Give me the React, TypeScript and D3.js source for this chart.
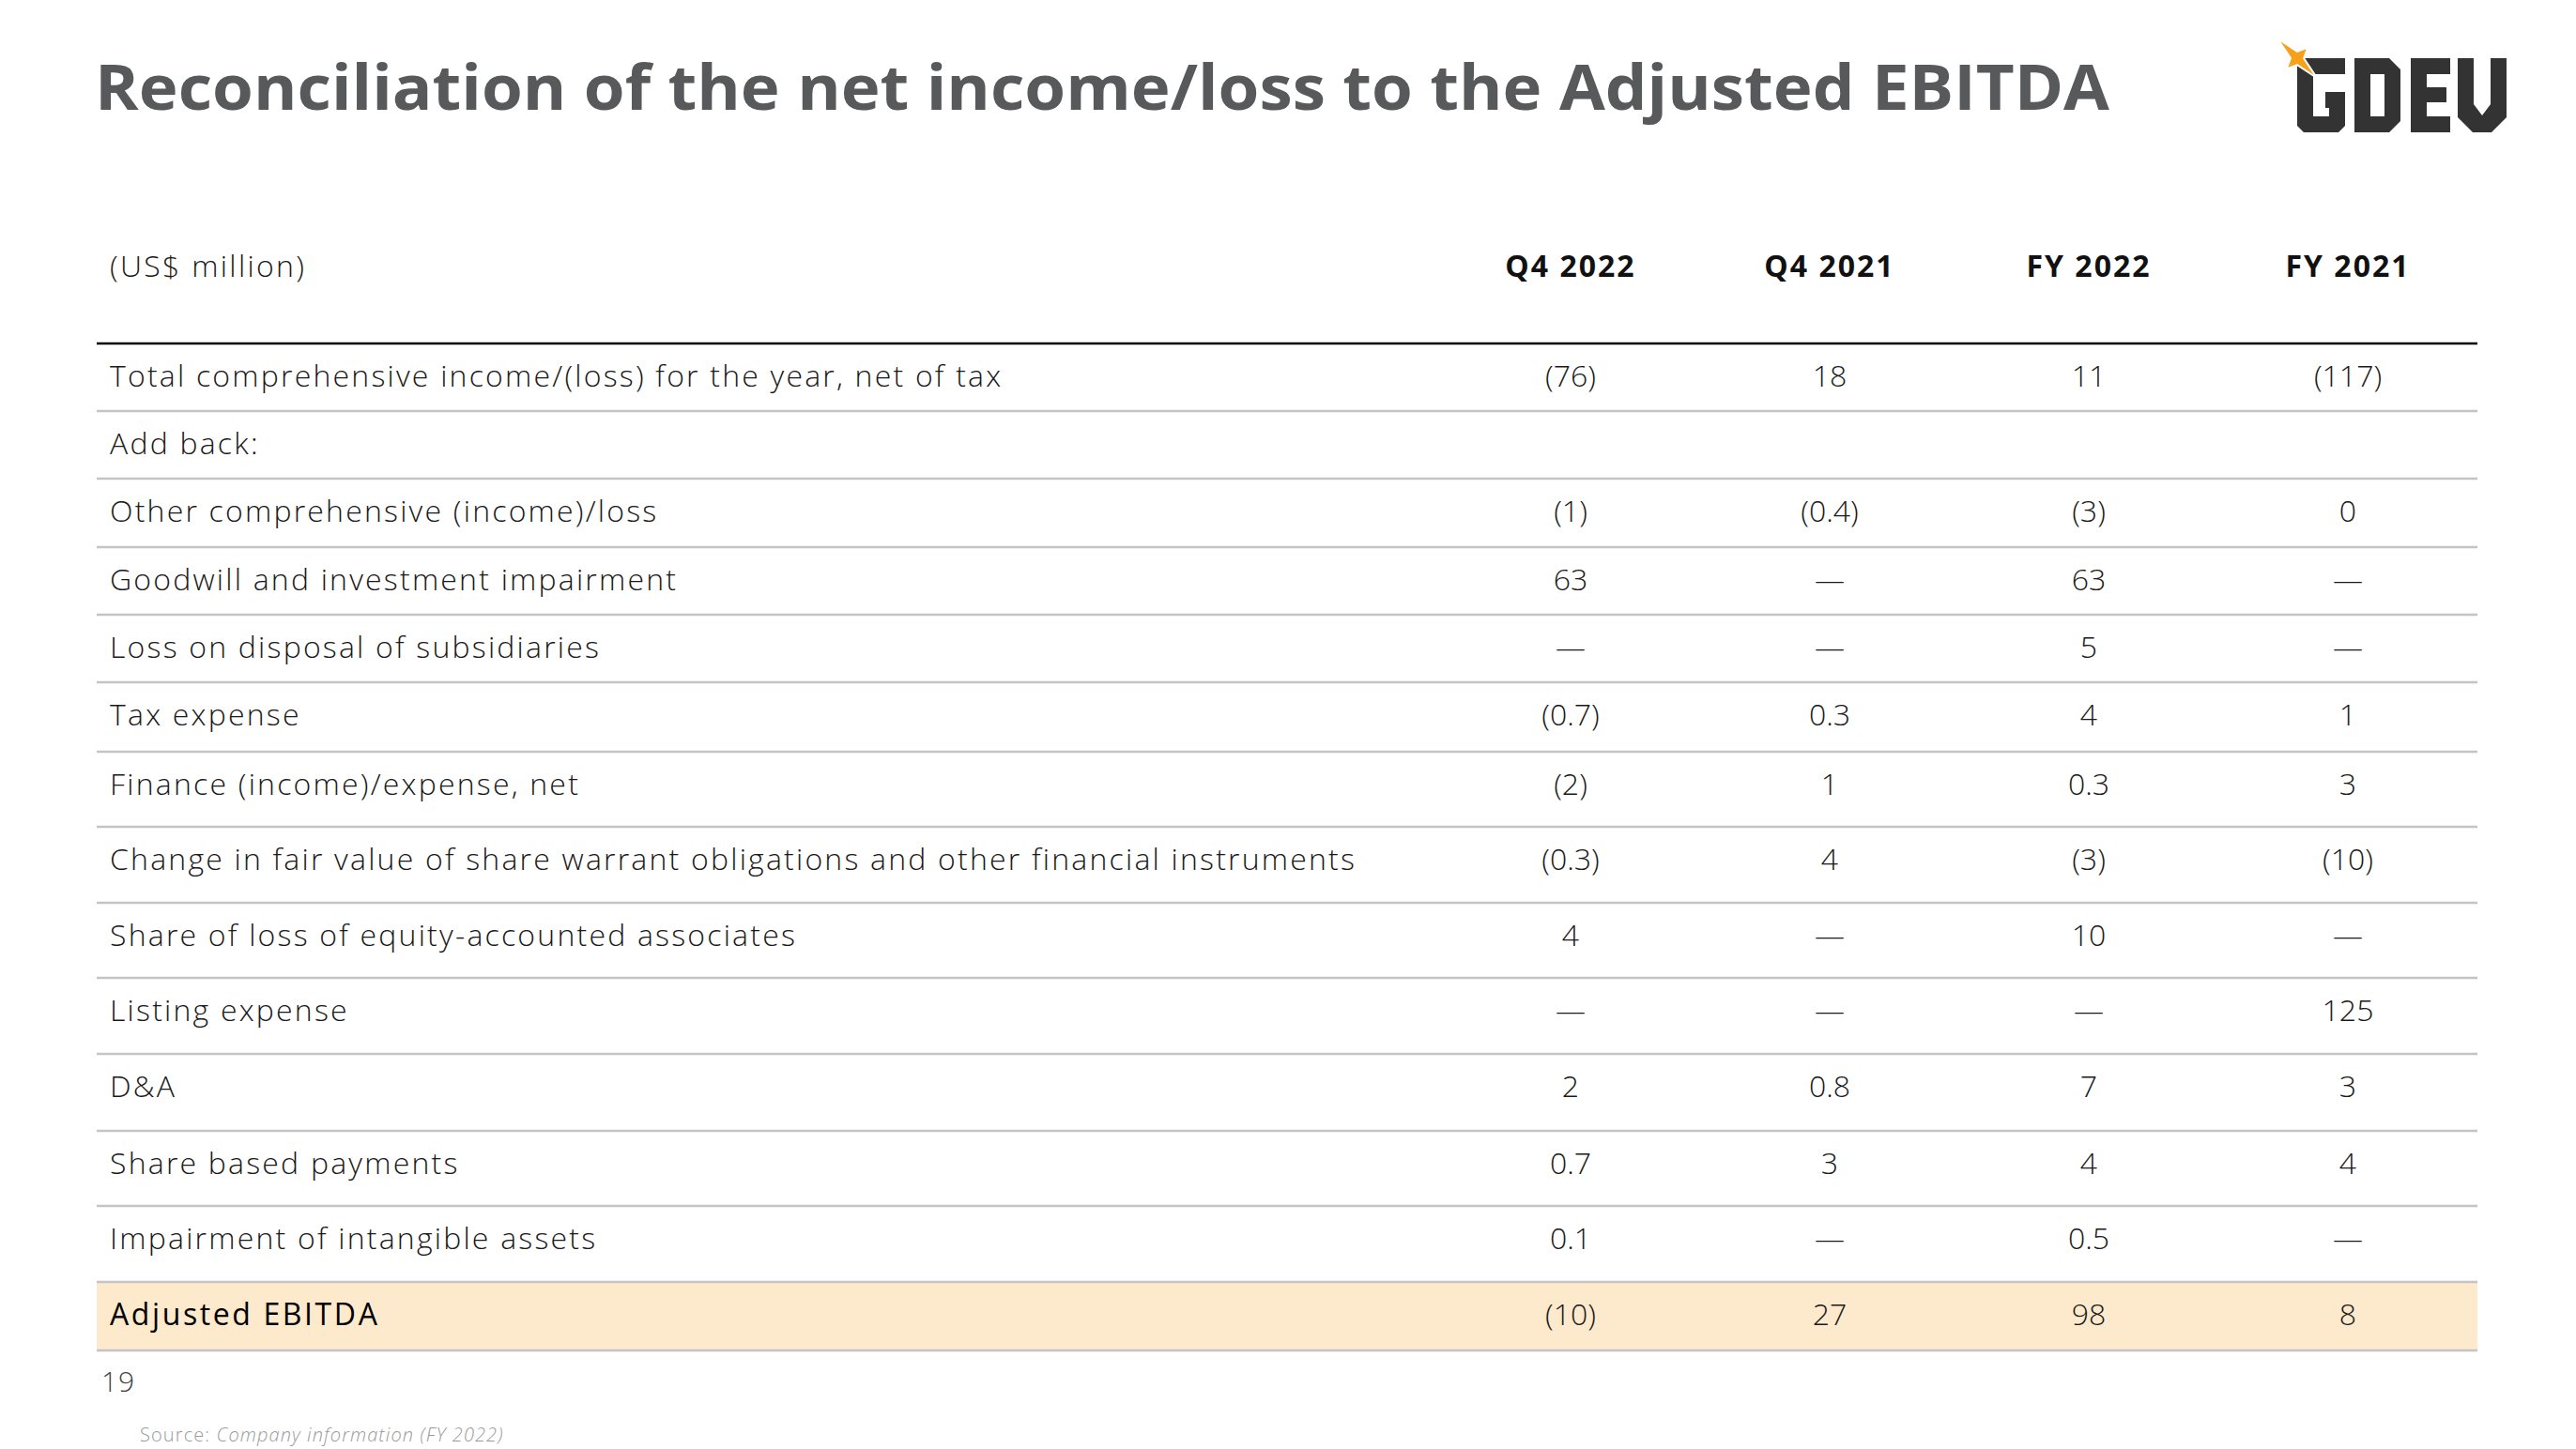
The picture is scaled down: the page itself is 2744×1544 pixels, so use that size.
import React from "react";
import * as d3 from "d3";

const title = "Reconciliation of the net income/loss to the Adjusted EBITDA";
const unitLabel = "(US$ million)";
const columns = ["Q4 2022", "Q4 2021", "FY 2022", "FY 2021"];
const rowLabels = [
  "Total comprehensive income/(loss) for the year, net of tax",
  "Add back:",
  "Other comprehensive (income)/loss",
  "Goodwill and investment impairment",
  "Loss on disposal of subsidiaries",
  "Tax expense",
  "Finance (income)/expense, net",
  "Change in fair value of share warrant obligations and other financial instruments",
  "Share of loss of equity-accounted associates",
  "Listing expense",
  "D&A",
  "Share based payments",
  "Impairment of intangible assets",
  "Adjusted EBITDA",
];
const q4_2022 = ["(76)", "", "(1)", "63", "—", "(0.7)", "(2)", "(0.3)", "4", "—", "2", "0.7", "0.1", "(10)"];
const q4_2021 = ["18", "", "(0.4)", "—", "—", "0.3", "1", "4", "—", "—", "0.8", "3", "—", "27"];
const fy_2022 = ["11", "", "(3)", "63", "5", "4", "0.3", "(3)", "10", "—", "7", "4", "0.5", "98"];
const fy_2021 = ["(117)", "", "0", "—", "—", "1", "3", "(10)", "—", "125", "3", "4", "—", "8"];
const pageNumber = "19";
const sourcePrefix = "Source: ";
const sourceText = "Company information (FY 2022)";

// layout
const W = 2744;
const H = 1544;
const tableLeft = 103;
const tableRight = 2639;
const tableTop = 366;
const rowHeights = [72, 72, 73, 72, 72, 74, 80, 81, 80, 81, 82, 80, 81, 73];
const FONT = "'Open Sans', 'Noto Sans', sans-serif";

function Logo() {
  const y0 = 62;
  const Hh = 79;
  const t = 17;
  const c = 7;
  const gx = 2447, gw = 51;
  const G = [
    [gx + c, y0], [gx + gw, y0], [gx + gw, y0 + t], [gx + t, y0 + t], [gx + t, y0 + Hh - t],
    [gx + gw - t, y0 + Hh - t], [gx + gw - t, y0 + 36 + t], [gx + 30, y0 + 36 + t], [gx + 30, y0 + 36],
    [gx + gw, y0 + 36], [gx + gw, y0 + Hh - c], [gx + gw - c, y0 + Hh], [gx + c, y0 + Hh], [gx, y0 + Hh - c], [gx, y0 + c],
  ];
  const dx = 2508, dw = 49;
  const Douter = [[dx, y0], [dx + dw - 12, y0], [dx + dw, y0 + 12], [dx + dw, y0 + Hh - 12], [dx + dw - 12, y0 + Hh], [dx, y0 + Hh]];
  const Dinner = [[dx + t, y0 + t], [dx + dw - t, y0 + t], [dx + dw - t, y0 + Hh - t], [dx + t, y0 + Hh - t]];
  const ex = 2568, ew = 42;
  const E = [
    [ex, y0], [ex + ew, y0], [ex + ew, y0 + t], [ex + t, y0 + t], [ex + t, y0 + 31], [ex + ew - 4, y0 + 31],
    [ex + ew - 4, y0 + 47], [ex + t, y0 + 47], [ex + t, y0 + Hh - t], [ex + ew, y0 + Hh - t], [ex + ew, y0 + Hh], [ex, y0 + Hh],
  ];
  const vx = 2618, vw = 52;
  const V = [
    [vx, y0], [vx + t, y0], [vx + t, y0 + Hh - 30], [vx + vw / 2, y0 + Hh - 18], [vx + vw - t, y0 + Hh - 30],
    [vx + vw - t, y0], [vx + vw, y0], [vx + vw, y0 + Hh - 16], [vx + vw - 16, y0 + Hh], [vx + 16, y0 + Hh], [vx, y0 + Hh - 16],
  ];
  const poly = (pts: number[][]) => "M" + pts.map((p) => p.join(",")).join("L") + "Z";
  const cx = 2447, cy = 62;
  const L = 30, S = 16, w = 5;
  const u = [Math.SQRT1_2, Math.SQRT1_2];
  const v = [Math.SQRT1_2, -Math.SQRT1_2];
  const pt = (a: number, b: number) => [cx + u[0] * a + v[0] * b, cy + u[1] * a + v[1] * b];
  const star = [pt(-L, 0), pt(-w, w), pt(0, S), pt(w, w), pt(L, 0), pt(w, -w), pt(0, -S), pt(-w, -w)];
  return (
    <g>
      <path d={poly(G)} fill="#333333" />
      <path d={poly(Douter) + poly(Dinner)} fill="#333333" fillRule="evenodd" />
      <path d={poly(E)} fill="#333333" />
      <path d={poly(V)} fill="#333333" />
      <path d={poly(star)} fill="#F5A11C" stroke="#ffffff" strokeWidth={2} />
    </g>
  );
}

export default function App() {
  const tops = [tableTop, ...Array.from(d3.cumsum(rowHeights), (s) => tableTop + s)];
  const x = d3.scalePoint<string>().domain(columns).range([1673, 2501]);
  const series = [q4_2022, q4_2021, fy_2022, fy_2021];
  const fs = 32;
  const lastIdx = rowLabels.length - 1;

  return (
    <svg width={W} height={H} style={{ position: "absolute", left: 0, top: 0, background: "#fff" }} fontFamily={FONT}>
      <rect x={0} y={0} width={W} height={H} fill="#ffffff" />
      <text x={101} y={117} fontSize={66} fontWeight={700} fill="#58595b" textLength={2146} lengthAdjust="spacingAndGlyphs">
        {title}
      </text>
      <Logo />

      {/* header */}
      <text x={117} y={295} fontSize={fs} fontWeight={300} fill="#1a1a1a" letterSpacing={2.3}>{unitLabel}</text>
      {columns.map((c) => (
        <text key={c} x={x(c)} y={295} fontSize={fs} fontWeight={700} fill="#111" textAnchor="middle" letterSpacing={2}>{c}</text>
      ))}

      {/* highlight row */}
      <rect x={tableLeft} y={tops[lastIdx]} width={tableRight - tableLeft} height={rowHeights[lastIdx]} fill="#FDE9CC" />

      {/* row lines */}
      {tops.slice(1).map((yy, i) => (
        <line key={i} x1={tableLeft} x2={tableRight} y1={yy} y2={yy} stroke="#c4c4c4" strokeWidth={2.5} />
      ))}
      <line x1={tableLeft} x2={tableRight} y1={tableTop} y2={tableTop} stroke="#000" strokeWidth={2.5} />

      {rowLabels.map((lab, i) => {
        const base = tops[i] + 35 + 0.357 * fs;
        const isLast = i === lastIdx;
        return (
          <g key={lab}>
            <text x={117} y={base} fontSize={fs} fontWeight={isLast ? 400 : 300} fill={isLast ? "#000" : "#1a1a1a"} letterSpacing={isLast ? 2.6 : 2.2}>{lab}</text>
            {series.map((s, j) => (
              <text key={j} x={x(columns[j])} y={base} fontSize={fs} fontWeight={300} fill="#1a1a1a" textAnchor="middle">{s[i]}</text>
            ))}
          </g>
        );
      })}

      <text x={108} y={1483} fontSize={30} fontWeight={300} fill="#444" letterSpacing={1}>{pageNumber}</text>
      <text x={149} y={1536} fontSize={20} fontWeight={300} fill="#9a9a9a" letterSpacing={1.1}>
        {sourcePrefix}
        <tspan fontStyle="italic">{sourceText}</tspan>
      </text>
    </svg>
  );
}
